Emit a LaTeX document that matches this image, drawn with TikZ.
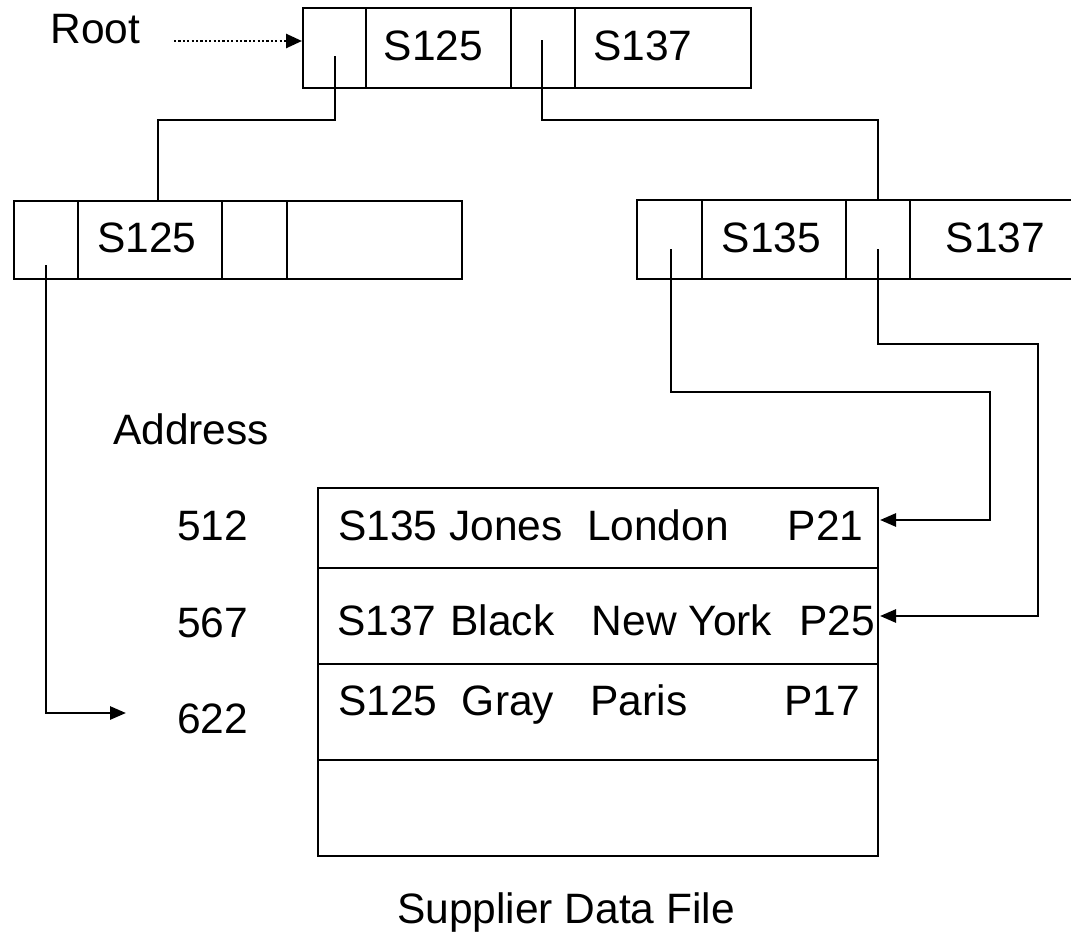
\documentclass[tikz,border=0pt]{standalone}
\usepackage{fontspec}
\setmainfont{Liberation Sans}
\usetikzlibrary{arrows.meta}
\begin{document}
\begin{tikzpicture}[x=1pt,y=-1pt,line width=2.7pt,
  cell/.style={draw,inner sep=0pt,minimum height=#1},
  cell/.default=80pt,
  txt/.style={font=\fontsize{42.5pt}{50pt}\selectfont,inner sep=0pt,anchor=base},
  link/.style={draw,line cap=rect},
  ptr/.style={draw,-{Triangle[length=16pt,width=13pt]}},
  rootptr/.style={draw,dash pattern=on 2.2pt off 2.2pt,line width=2.6pt,
    -{Triangle[length=16pt,width=14pt]}}]
\useasboundingbox (0,0) rectangle (1071,934);
\clip (0,0) rectangle (1071,934);

% root index block
\node[cell,minimum width=63pt]  (rp1) at (334.5,48) {};
\node[cell,minimum width=145pt] (rk1) at (438.5,48) {};
\node[cell,minimum width=64pt]  (rp2) at (543,48) {};
\node[cell,minimum width=176pt] (rk2) at (663,48) {};
\node[txt] (rk1t) at (433.5,61) {S125};
\node[txt] (rk2t) at (643,61) {S137};

% left leaf block
\node[cell=78pt,minimum width=64pt]  (lp1) at (46,240) {};
\node[cell=78pt,minimum width=144pt] (lk1) at (150,240) {};
\node[cell=78pt,minimum width=65pt]  (lp2) at (254.5,240) {};
\node[cell=78pt,minimum width=175pt] (lk2) at (374.5,240) {};
\node[txt] (lk1t) at (147,252) {S125};

% right leaf block (runs off the right edge)
\node[cell=79pt,minimum width=65pt]  (qp1) at (669.5,239.5) {};
\node[cell=79pt,minimum width=144pt] (qk1) at (774,239.5) {};
\node[cell=79pt,minimum width=64pt]  (qp2) at (878,239.5) {};
\node[cell=79pt,minimum width=190pt] (qk2) at (1005,239.5) {};
\node[txt] (qk1t) at (771.5,252) {S135};
\node[txt] (qk2t) at (995.5,252) {S137};

% supplier data file
\node[cell=80pt,minimum width=560pt] (d1) at (598,528) {};
\node[cell=96pt,minimum width=560pt] (d2) at (598,616) {};
\node[cell=96pt,minimum width=560pt] (d3) at (598,712) {};
\node[cell=96pt,minimum width=560pt] (d4) at (598,808) {};

\node[txt] (r1a) at (388,540) {S135};
\node[txt] (r1b) at (506,540) {Jones};
\node[txt] (r1c) at (658,540) {London};
\node[txt] (r1d) at (825.5,540) {P21};
\node[txt] (r2a) at (387,635) {S137};
\node[txt] (r2b) at (502.5,635) {Black};
\node[txt] (r2c) at (682,635) {New York};
\node[txt] (r2d) at (837,635) {P25};
\node[txt] (r3a) at (388,715) {S125};
\node[txt] (r3b) at (508,715) {Gray};
\node[txt] (r3c) at (639,715) {Paris};
\node[txt] (r3d) at (822,715) {P17};

\node[txt] (title) at (566,923) {Supplier Data File};

% addresses
\node[txt] (addr) at (191,444) {Address};
\node[txt] (a512) at (212.5,540) {512};
\node[txt] (a567) at (212.5,637) {567};
\node[txt] (a622) at (212.5,733) {622};

% root label and its pointer
\node[txt] (rootlbl) at (95.5,44) {Root};
\coordinate (rootS) at (174,41);
\coordinate (rootE) at (302,41);
\draw[rootptr] (rootS) -- (rootE);

% pointer start points inside the pointer cells
\coordinate (rp1s) at (335,57);
\coordinate (rp2s) at (542,41);
\coordinate (lp1s) at (46,265);
\coordinate (qp1s) at (671,249);
\coordinate (qp2s) at (878,249);

% connector end points
\coordinate (lkTop) at (158,201);
\coordinate (qTop) at (878,200);
\coordinate (in622) at (126,713);
\coordinate (in512) at (880,520);
\coordinate (in567) at (880,616);

% tree links
\draw[link] (rp1s) |- (158,120) -- (lkTop);
\draw[link] (rp2s) |- (878,120) -- (qTop);

% record pointers
\draw[ptr] (lp1s) |- (in622);
\draw[ptr] (qp1s) |- (990,392) |- (in512);
\draw[ptr] (qp2s) |- (1038,344) |- (in567);
\end{tikzpicture}
\end{document}
